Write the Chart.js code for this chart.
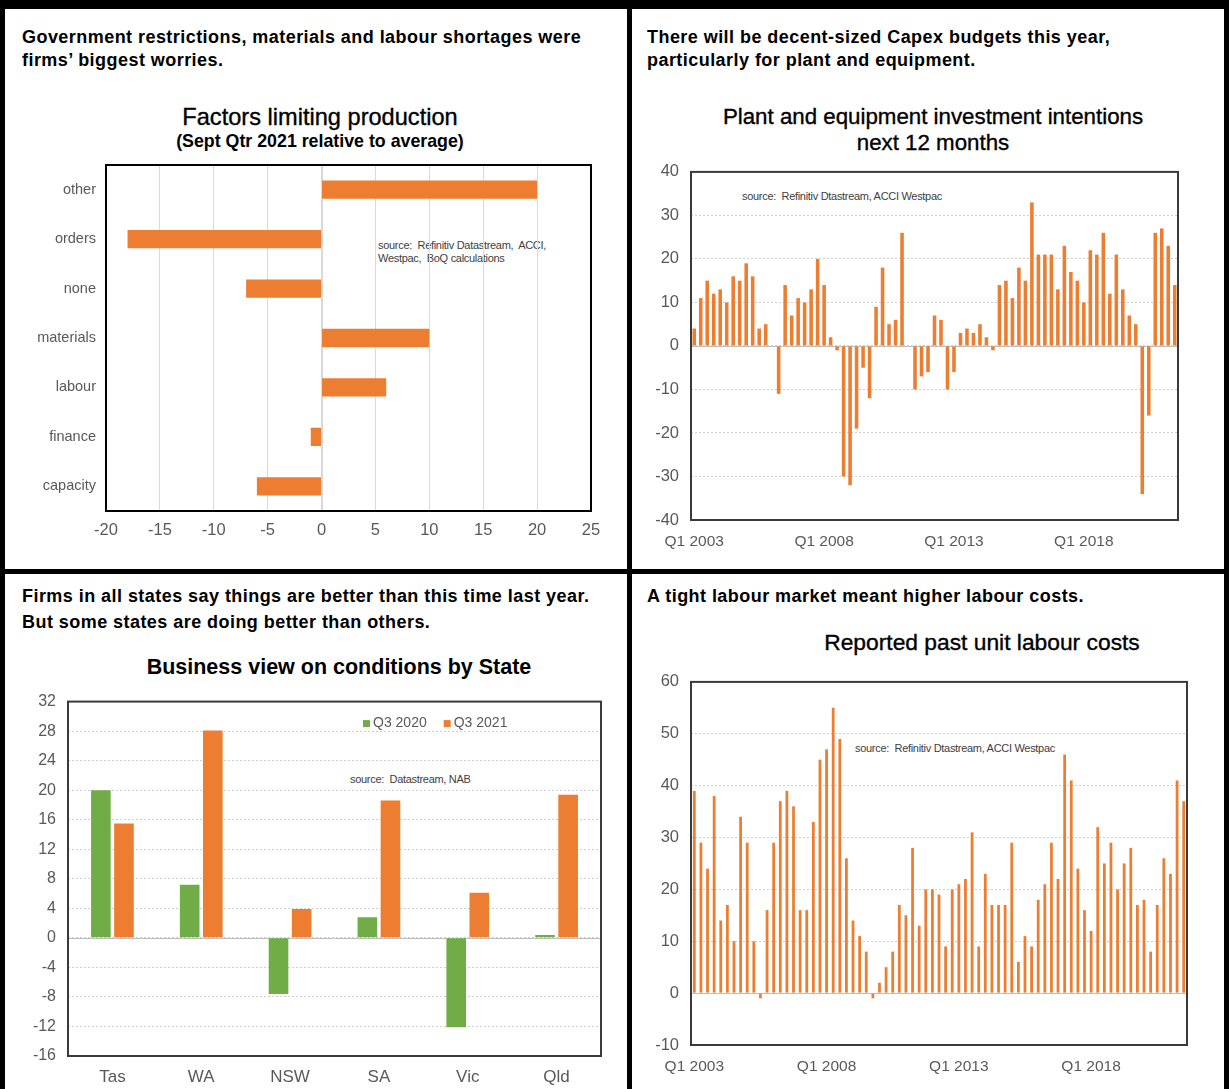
<!DOCTYPE html>
<html>
<head>
<meta charset="utf-8">
<script src="https://cdn.jsdelivr.net/npm/chart.js@4.4.1/dist/chart.umd.min.js"></script>
<style>
  html, body { margin: 0; padding: 0; background: #fff; }
  body { position: relative; width: 1229px; height: 1089px; overflow: hidden;
         font-family: "Liberation Sans", Arial, sans-serif; }
  .rule { position: absolute; background: #000; }
  .head { position: absolute; font-weight: bold; font-size: 18px; color: #000; white-space: nowrap; letter-spacing: 0.45px; }
  .title { position: absolute; width: 600px; text-align: center; color: #000; white-space: nowrap; }
  .semi { -webkit-text-stroke: 0.35px #000; }
  .src { position: absolute; font-size: 11px; line-height: 13px; color: #404040; white-space: pre; letter-spacing: -0.3px; }
  canvas { position: absolute; display: block; }
</style>
</head>
<body>
<!-- panel frame -->
<div class="rule" style="left:0;top:0;width:1229px;height:9px"></div>
<div class="rule" style="left:0;top:0;width:5px;height:1089px"></div>
<div class="rule" style="left:1224px;top:0;width:5px;height:1089px"></div>
<div class="rule" style="left:627px;top:0;width:5px;height:1089px"></div>
<div class="rule" style="left:0;top:569px;width:1229px;height:5px"></div>

<!-- panel headings -->
<div class="head" style="left:22px;top:26px;line-height:23px">Government restrictions, materials and labour shortages were<br>firms’ biggest worries.</div>
<div class="head" style="left:647px;top:26px;line-height:23px">There will be decent-sized Capex budgets this year,<br>particularly for plant and equipment.</div>
<div class="head" style="left:22px;top:583px;line-height:26px">Firms in all states say things are better than this time last year.<br>But some states are doing better than others.</div>
<div class="head" style="left:647px;top:583px;line-height:26px">A tight labour market meant higher labour costs.</div>

<!-- chart titles -->
<div class="title semi" style="left:20px;top:103px;font-size:23.6px;line-height:28px">Factors limiting production</div>
<div class="title" style="left:20px;top:131px;font-size:17.8px;line-height:20px;font-weight:bold">(Sept Qtr 2021 relative to average)</div>
<div class="title semi" style="left:633px;top:104px;font-size:22.3px;line-height:26px">Plant and equipment investment intentions<br>next 12 months</div>
<div class="title" style="left:39px;top:654px;font-size:21.5px;line-height:26px;font-weight:bold">Business view on conditions by State</div>
<div class="title semi" style="left:682px;top:629px;font-size:22.8px;line-height:26px">Reported past unit labour costs</div>

<!-- source notes -->
<div class="src" style="left:378px;top:239px">source:  Refinitiv Datastream,  ACCI,
Westpac,  BoQ calculations</div>
<div class="src" style="left:742px;top:190px">source:  Refinitiv Dtastream, ACCI Westpac</div>
<div class="src" style="left:350px;top:773px">source:  Datastream, NAB</div>
<div class="src" style="left:855px;top:742px">source:  Refinitiv Dtastream, ACCI Westpac</div>

<canvas id="factors" width="600" height="400" style="left:20px;top:150px"></canvas>
<canvas id="capex" width="580" height="410" style="left:640px;top:150px"></canvas>
<canvas id="states" width="600" height="409" style="left:20px;top:680px"></canvas>
<canvas id="ulc" width="580" height="429" style="left:640px;top:660px"></canvas>

<script>
// ---- data ----
const factorLabels = ['other', 'orders', 'none', 'materials', 'labour', 'finance', 'capacity'];
const factorValues = [20, -18, -7, 10, 6, -1, -6];

// quarterly survey readings, Q1 2003 to Q3 2021
const firstYear = 2003;
const quarterCount = 75;
const quarters = [];
for (let i = 0; i < quarterCount; i++) {
  quarters.push('Q' + (i % 4 + 1) + ' ' + (firstYear + Math.floor(i / 4)));
}

const capexIntentions = [
  4, 11, 15, 12, 13, 10, 16, 15, 19, 16,
  4, 5, 0, -11, 14, 7, 11, 10, 13, 20,
  14, 2, -1, -30, -32, -19, -5, -12, 9, 18,
  5, 6, 26, 0, -10, -7, -6, 7, 6, -10,
  -6, 3, 4, 3, 5, 2, -1, 14, 15, 11,
  18, 15, 33, 21, 21, 21, 13, 23, 17, 15,
  10, 22, 21, 26, 12, 21, 13, 7, 5, -34,
  -16, 26, 27, 23, 14
];

const unitLabourCosts = [
  39, 29, 24, 38, 14, 17, 10, 34, 29, 10,
  -1, 16, 29, 37, 39, 36, 16, 16, 33, 45,
  47, 55, 49, 26, 14, 11, 8, -1, 2, 5,
  8, 17, 15, 28, 13, 20, 20, 19, 9, 20,
  21, 22, 31, 9, 23, 17, 17, 17, 29, 6,
  11, 9, 18, 21, 29, 22, 46, 41, 24, 16,
  12, 32, 25, 29, 20, 25, 28, 17, 18, 8,
  17, 26, 23, 41, 37
];

const states = ['Tas', 'WA', 'NSW', 'SA', 'Vic', 'Qld'];
const q3of2020 = [20, 7.2, -7.6, 2.8, -12.1, 0.4];
const q3of2021 = [15.5, 28.1, 3.9, 18.6, 6.1, 19.4];

// ---- styling ----
const ORANGE = '#ED7D31';
const GREEN = '#70AD47';
const FONT = '"Liberation Sans", Arial, sans-serif';
const TICK = '#595959';

Chart.defaults.font.family = FONT;
Chart.defaults.color = TICK;

// dark rectangle round the plot area
const framePlugin = {
  id: 'frame',
  afterDatasetsDraw(chart, args, opts) {
    const a = chart.chartArea, ctx = chart.ctx;
    ctx.save();
    ctx.strokeStyle = opts.color;
    ctx.lineWidth = opts.width;
    ctx.strokeRect(a.left, a.top, a.right - a.left, a.bottom - a.top);
    ctx.restore();
  }
};

// solid line through zero on the value axis
const zeroLinePlugin = {
  id: 'zeroLine',
  beforeDatasetsDraw(chart, args, opts) {
    const scale = chart.scales[opts.axis];
    const a = chart.chartArea, ctx = chart.ctx;
    const p = Math.round(scale.getPixelForValue(0)) + 0.5;
    ctx.save();
    ctx.strokeStyle = opts.color;
    ctx.lineWidth = opts.width;
    ctx.beginPath();
    if (scale.isHorizontal()) { ctx.moveTo(p, a.top); ctx.lineTo(p, a.bottom); }
    else { ctx.moveTo(a.left, p); ctx.lineTo(a.right, p); }
    ctx.stroke();
    ctx.restore();
  }
};

// small legend drawn inside the plot area
const insideLegendPlugin = {
  id: 'insideLegend',
  afterDatasetsDraw(chart, args, opts) {
    const a = chart.chartArea, ctx = chart.ctx;
    let x = a.left + opts.x;
    const y = a.top + opts.y;
    ctx.save();
    ctx.font = opts.font;
    ctx.textBaseline = 'middle';
    chart.data.datasets.forEach(ds => {
      ctx.fillStyle = ds.backgroundColor;
      ctx.fillRect(x, y - opts.box / 2, opts.box, opts.box);
      x += opts.box + 3;
      ctx.fillStyle = opts.color;
      ctx.fillText(ds.label, x, y);
      x += ctx.measureText(ds.label).width + opts.gap;
    });
    ctx.restore();
  }
};

const common = {
  responsive: false,
  animation: false,
  devicePixelRatio: 1,
  events: [],
  plugins: { legend: { display: false }, tooltip: { enabled: false } }
};

// ---- Factors limiting production ----
new Chart(document.getElementById('factors'), {
  type: 'bar',
  data: {
    labels: factorLabels,
    datasets: [{ data: factorValues, backgroundColor: ORANGE, categoryPercentage: 1, barPercentage: 0.37 }]
  },
  plugins: [zeroLinePlugin, framePlugin],
  options: {
    ...common,
    indexAxis: 'y',
    layout: { padding: { top: 15, right: 29, bottom: 0, left: 0 } },
    scales: {
      x: {
        min: -20, max: 25,
        ticks: { stepSize: 5, padding: 10, font: { size: 16.5 }, color: TICK },
        grid: { color: '#d9d9d9', drawTicks: false },
        border: { display: false },
        afterFit(s) { s.height = 39; }
      },
      y: {
        ticks: { padding: 10, font: { size: 14.5 }, color: TICK },
        grid: { display: false, drawTicks: false },
        border: { display: false },
        afterFit(s) { s.width = 86; s.paddingTop = 0; s.paddingBottom = 0; }
      }
    },
    plugins: {
      ...common.plugins,
      zeroLine: { axis: 'x', color: '#d9d9d9', width: 1 },
      frame: { color: '#000', width: 2 }
    }
  }
});

// shared options for the two quarterly charts
function quarterlyOptions(min, max, step, yWidth, xHeight, padRight) {
  return {
    ...common,
    layout: { padding: { top: 20, right: padRight, bottom: 0, left: 0 } },
    scales: {
      x: {
        ticks: {
          autoSkip: false, maxRotation: 0, padding: 12, font: { size: 15.5 }, color: TICK,
          callback: (v, i) => (i % 20 === 0 ? quarters[i] : '')
        },
        grid: { display: false, drawTicks: false },
        border: { display: false },
        afterFit(s) { s.height = xHeight; }
      },
      y: {
        min, max,
        ticks: { stepSize: step, padding: 12, font: { size: 16.5 }, color: TICK },
        grid: { color: '#cfcfcf', drawTicks: false },
        border: { display: false, dash: [2, 2] },
        afterFit(s) { s.width = yWidth; }
      }
    },
    plugins: {
      ...common.plugins,
      zeroLine: { axis: 'y', color: '#bfbfbf', width: 1 },
      frame: { color: '#3a3a3a', width: 2 }
    }
  };
}

// ---- Plant and equipment investment intentions ----
new Chart(document.getElementById('capex'), {
  type: 'bar',
  data: {
    labels: quarters,
    datasets: [{ data: capexIntentions, backgroundColor: ORANGE, categoryPercentage: 1, barPercentage: 0.55 }]
  },
  plugins: [zeroLinePlugin, framePlugin],
  options: quarterlyOptions(-40, 40, 10, 51, 40, 42)
});

// ---- Reported past unit labour costs ----
new Chart(document.getElementById('ulc'), {
  type: 'bar',
  data: {
    labels: quarters,
    datasets: [{ data: unitLabourCosts, backgroundColor: ORANGE, categoryPercentage: 1, barPercentage: 0.42 }]
  },
  plugins: [zeroLinePlugin, framePlugin],
  options: quarterlyOptions(-10, 60, 10, 51, 44, 33)
});

// ---- Business view on conditions by State ----
new Chart(document.getElementById('states'), {
  type: 'bar',
  data: {
    labels: states,
    datasets: [
      { label: 'Q3 2020', data: q3of2020, backgroundColor: GREEN, categoryPercentage: 0.52, barPercentage: 0.85 },
      { label: 'Q3 2021', data: q3of2021, backgroundColor: ORANGE, categoryPercentage: 0.52, barPercentage: 0.85 }
    ]
  },
  plugins: [zeroLinePlugin, framePlugin, insideLegendPlugin],
  options: {
    ...common,
    layout: { padding: { top: 20, right: 19, bottom: 0, left: 0 } },
    scales: {
      x: {
        ticks: { padding: 11, font: { size: 17 }, color: TICK },
        grid: { display: false, drawTicks: false },
        border: { display: false },
        afterFit(s) { s.height = 33; }
      },
      y: {
        min: -16, max: 32,
        ticks: { stepSize: 4, padding: 12, font: { size: 16 }, color: TICK },
        grid: { color: '#cfcfcf', drawTicks: false },
        border: { display: false, dash: [2, 2] },
        afterFit(s) { s.width = 48; }
      }
    },
    plugins: {
      ...common.plugins,
      zeroLine: { axis: 'y', color: '#bfbfbf', width: 1 },
      frame: { color: '#3a3a3a', width: 2 },
      insideLegend: { x: 295, y: 22, box: 7, gap: 17, font: '14px ' + FONT, color: TICK }
    }
  }
});
</script>
</body>
</html>
